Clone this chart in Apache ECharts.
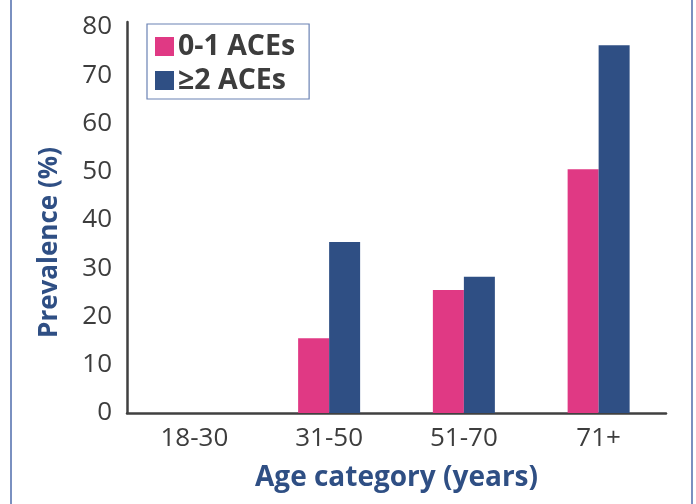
<!DOCTYPE html>
<html>
<head>
<meta charset="utf-8">
<script src="https://cdn.jsdelivr.net/npm/echarts@6/dist/echarts.min.js"></script>
<style>
html,body{margin:0;padding:0;background:#fff;}
#chart{width:696px;height:504px;}
</style>
</head>
<body>
<div id="chart"></div>
<script>
const categories = ['18-30', '31-50', '51-70', '71+'];
const aces01 = [0, 15.5, 25.5, 50.5];
const aces2plus = [0, 35.4, 28.2, 76.2];
const yTicks = [0, 10, 20, 30, 40, 50, 60, 70, 80];

const pink = '#E03984';
const navy = '#2F4F84';
const textGray = '#3d3d3d';
const FONT = '"Open Sans", "DejaVu Sans", sans-serif';

const chart = echarts.init(document.getElementById('chart'), null, {renderer: 'canvas'});
chart.setOption({
  animation: false,
  backgroundColor: '#fff',
  graphic: [{
    type: 'rect',
    shape: {x: 11, y: -10, width: 681, height: 530},
    style: {fill: 'none', stroke: '#7A90C0', lineWidth: 2},
    silent: true
  }],
  grid: {left: 127, right: 30, top: 22, bottom: 91, containLabel: false, outerBoundsMode: 'none'},
  legend: {
    orient: 'vertical',
    left: 147, top: 24,
    padding: [8, 14, 4, 8],
    itemWidth: 19, itemHeight: 19, itemGap: 5,
    borderColor: '#6A82B4', borderWidth: 1.2,
    icon: 'rect',
    textStyle: {fontFamily: FONT, fontSize: 28.5, fontWeight: 'bold', color: textGray, padding: [0,0,0,-1]},
    data: ['0-1 ACEs', '≥2 ACEs']
  },
  xAxis: {
    type: 'category',
    data: categories,
    name: 'Age category (years)',
    nameLocation: 'middle',
    nameGap: 51,
    nameTextStyle: {fontFamily: FONT, fontSize: 28, fontWeight: 'bold', color: navy},
    axisLine: {lineStyle: {color: '#404040', width: 2.5}},
    axisTick: {show: false},
    axisLabel: {fontFamily: FONT, fontSize: 26, color: textGray, margin: 13}
  },
  yAxis: {
    type: 'value',
    min: 0, max: 81, interval: 10,
    name: 'Prevalence (%)',
    nameLocation: 'middle',
    nameGap: 64,
    nameTextStyle: {fontFamily: FONT, fontSize: 26, fontWeight: 'bold', color: navy, padding: [0, 50, 0, 0]},
    axisLine: {show: true, lineStyle: {color: '#404040', width: 2.5}},
    axisTick: {show: false},
    splitLine: {show: false},
    axisLabel: {
      fontFamily: FONT, fontSize: 26, color: textGray, margin: 15, showMaxLabel: false,
      formatter: v => (yTicks.indexOf(v) >= 0 ? String(v) : '')
    }
  },
  series: [
    {name: '0-1 ACEs', type: 'bar', data: aces01, itemStyle: {color: pink}, barWidth: 31, barGap: '0%'},
    {name: '≥2 ACEs', type: 'bar', data: aces2plus, itemStyle: {color: navy}, barWidth: 31, barGap: '0%'}
  ]
});
</script>
</body>
</html>
